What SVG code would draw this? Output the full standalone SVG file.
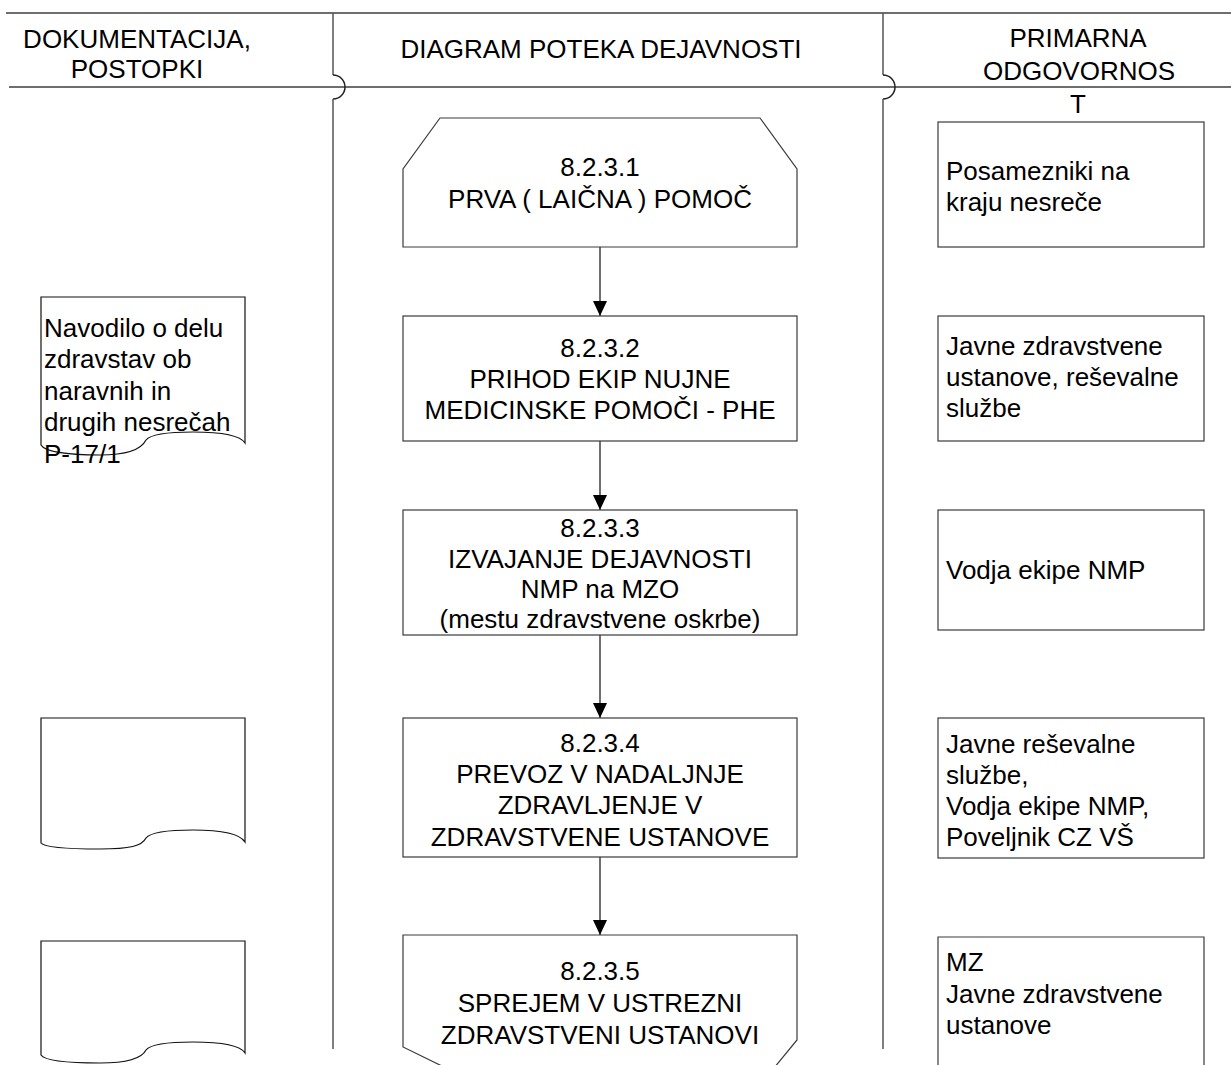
<svg xmlns="http://www.w3.org/2000/svg" width="1231" height="1065" viewBox="0 0 1231 1065">
<defs>
<style>
text{font-family:"Liberation Sans",Arial,sans-serif;font-size:26px;fill:#000}
.c{text-anchor:middle}
.hl{stroke:#6e6e6e;stroke-width:2;fill:none}
.vl{stroke:#555;stroke-width:1.5;fill:none}
.jmp{stroke:#222;stroke-width:1.5;fill:none}
.box{fill:#fff;stroke:#3a3a3a;stroke-width:1.2}
.doc{fill:#fff;stroke:#111;stroke-width:1.2}
.con{stroke:#222;stroke-width:1.3;fill:none}
</style>
<marker id="ah" viewBox="0 0 15 14" refX="15" refY="7" markerWidth="15" markerHeight="14" markerUnits="userSpaceOnUse" orient="auto">
<path d="M0,0 L15,7 L0,14 Z" fill="#000"/>
</marker>
</defs>
<g id="header">
<line class="hl" x1="6" y1="13" x2="1231" y2="13"/>
<line class="hl" x1="9" y1="87" x2="1231" y2="87" stroke-width="1.5"/>
<path class="vl" d="M333,13 V75"/>
<path class="jmp" d="M333,75 A12,12 0 0 1 333,99"/>
<path class="vl" d="M333,99 V1049"/>
<path class="vl" d="M883,13 V75"/>
<path class="jmp" d="M883,75 A12,12 0 0 1 883,99"/>
<path class="vl" d="M883,99 V1049"/>
<text class="c" x="137" y="48">DOKUMENTACIJA,</text>
<text class="c" x="137" y="78">POSTOPKI</text>
<text class="c" x="601" y="58">DIAGRAM POTEKA DEJAVNOSTI</text>
<text class="c" x="1078" y="47">PRIMARNA</text>
<text class="c" x="1079" y="80">ODGOVORNOS</text>
<text class="c" x="1078" y="113">T</text>
</g>
<g id="connectors">
<line class="con" x1="600" y1="247" x2="600" y2="316" marker-end="url(#ah)"/>
<line class="con" x1="600" y1="441" x2="600" y2="510" marker-end="url(#ah)"/>
<line class="con" x1="600" y1="635" x2="600" y2="718" marker-end="url(#ah)"/>
<line class="con" x1="600" y1="857" x2="600" y2="935" marker-end="url(#ah)"/>
</g>
<g id="n1">
<path class="box" d="M440,118 H760 L797,169 V247 H403 V169 Z"/>
<text class="c" x="600" y="176">8.2.3.1</text>
<text class="c" x="600" y="208">PRVA ( LAIČNA ) POMOČ</text>
</g>
<g id="n2">
<rect class="box" x="403" y="316" width="394" height="125"/>
<text class="c" x="600" y="357">8.2.3.2</text>
<text class="c" x="600" y="388">PRIHOD EKIP NUJNE</text>
<text class="c" x="600" y="419">MEDICINSKE POMOČI - PHE</text>
</g>
<g id="n3">
<rect class="box" x="403" y="510" width="394" height="125"/>
<text class="c" x="600" y="537">8.2.3.3</text>
<text class="c" x="600" y="568">IZVAJANJE DEJAVNOSTI</text>
<text class="c" x="600" y="598">NMP na MZO</text>
<text class="c" x="600" y="628">(mestu zdravstvene oskrbe)</text>
</g>
<g id="n4">
<rect class="box" x="403" y="718" width="394" height="139"/>
<text class="c" x="600" y="752">8.2.3.4</text>
<text class="c" x="600" y="783">PREVOZ V NADALJNJE</text>
<text class="c" x="600" y="814">ZDRAVLJENJE V</text>
<text class="c" x="600" y="846">ZDRAVSTVENE USTANOVE</text>
</g>
<g id="n5">
<path class="box" d="M446,1068 L403,1047 V935 H797 V1040 L774,1068 Z"/>
<text class="c" x="600" y="980">8.2.3.5</text>
<text class="c" x="600" y="1012">SPREJEM V USTREZNI</text>
<text class="c" x="600" y="1044">ZDRAVSTVENI USTANOVI</text>
</g>
<g id="r1">
<rect class="box" x="938" y="122" width="266" height="125"/>
<text x="946" y="180">Posamezniki na</text>
<text x="946" y="211">kraju nesreče</text>
</g>
<g id="r2">
<rect class="box" x="938" y="316" width="266" height="125"/>
<text x="946" y="355">Javne zdravstvene</text>
<text x="946" y="386">ustanove, reševalne</text>
<text x="946" y="417">službe</text>
</g>
<g id="r3">
<rect class="box" x="938" y="510" width="266" height="120"/>
<text x="946" y="579">Vodja ekipe NMP</text>
</g>
<g id="r4">
<rect class="box" x="938" y="718" width="266" height="140"/>
<text x="946" y="753">Javne reševalne</text>
<text x="946" y="784">službe,</text>
<text x="946" y="815">Vodja ekipe NMP,</text>
<text x="946" y="846">Poveljnik CZ VŠ</text>
</g>
<g id="r5">
<path class="box" d="M938,1068 V937 H1204 V1068"/>
<text x="946" y="971">MZ</text>
<text x="946" y="1003">Javne zdravstvene</text>
<text x="946" y="1034">ustanove</text>
</g>
<g id="d1">
<path class="doc" d="M41,297 H245 V443 C240,435 220,432 193,432 C165,432 150,435 146,440 C142,448 130,455 100,455 C70,455 45,452 41,445 Z"/>
<text x="44" y="337">Navodilo o delu</text>
<text x="44" y="368">zdravstav ob</text>
<text x="44" y="400">naravnih in</text>
<text x="44" y="431">drugih nesrečah</text>
<text x="44" y="463">P-17/1</text>
</g>
<g id="d2">
<path class="doc" d="M41,718 H245 V842 C240,834 220,830 193,830 C165,830 150,833 146,838 C142,846 130,849 100,849 C70,849 45,848 41,843 Z"/>
</g>
<g id="d3">
<path class="doc" d="M41,941 H245 V1053 C240,1045 220,1042 193,1042 C165,1042 150,1045 146,1050 C142,1058 130,1063 100,1063 C70,1063 45,1061 41,1055 Z"/>
</g>
</svg>
